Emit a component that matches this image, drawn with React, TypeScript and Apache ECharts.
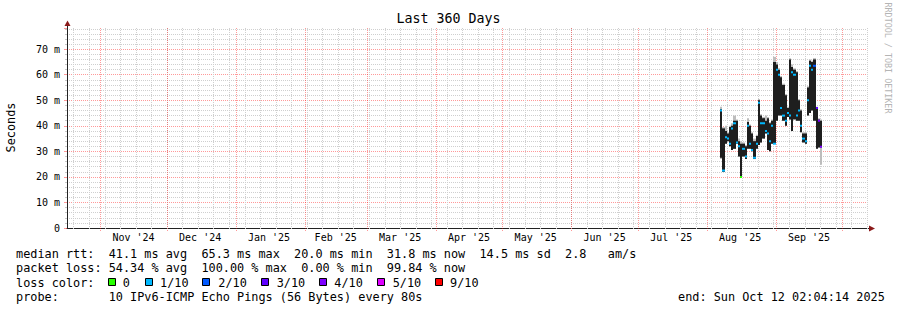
import React, { useEffect, useRef } from 'react';
import * as echarts from 'echarts';

const FONT = "'DejaVu Sans Mono', monospace";
const DAY = 86400000;

const END_TIME = '2025-10-12T02:04:14Z';
const SPAN_DAYS = 360;
const Y_MAX = 78.3; // ms

const monthStarts = ['2024-11-01', '2024-12-01', '2025-01-01', '2025-02-01', '2025-03-01', '2025-04-01',
  '2025-05-01', '2025-06-01', '2025-07-01', '2025-08-01', '2025-09-01', '2025-10-01'];
const monthLabelDates = ['2024-11-16', '2024-12-16', '2025-01-16', '2025-02-15', '2025-03-16', '2025-04-16',
  '2025-05-16', '2025-06-16', '2025-07-16', '2025-08-16', '2025-09-16'];
const monthLabels = ["Nov '24", "Dec '24", "Jan '25", "Feb '25", "Mar '25", "Apr '25",
  "May '25", "Jun '25", "Jul '25", "Aug '25", "Sep '25"];
const FIRST_WEEK_LINE = '2024-10-20';

// daily samples (ms)
const sampleDates = ['2025-08-07', '2025-08-08', '2025-08-09', '2025-08-10', '2025-08-11', '2025-08-12',
  '2025-08-13', '2025-08-14', '2025-08-15', '2025-08-16', '2025-08-17', '2025-08-18', '2025-08-19',
  '2025-08-20', '2025-08-21', '2025-08-22', '2025-08-23', '2025-08-24', '2025-08-25', '2025-08-26',
  '2025-08-27', '2025-08-28', '2025-08-29', '2025-08-30', '2025-08-31', '2025-09-01', '2025-09-02',
  '2025-09-03', '2025-09-04', '2025-09-05', '2025-09-06', '2025-09-07', '2025-09-08', '2025-09-09',
  '2025-09-10', '2025-09-11', '2025-09-12', '2025-09-13', '2025-09-14', '2025-09-15', '2025-09-16',
  '2025-09-17', '2025-09-18', '2025-09-19', '2025-09-20', '2025-09-21'];
const smokeHigh = [46.5, 39, 38, 37, 39.5, 40, 42, 42, 34, 33, 33, 32, 41.5, 40, 37, 34, 36, 50, 44, 43,
  42, 43, 41, 42, 65, 64, 62, 59, 56, 52, 47, 66, 63, 62, 61, 50, 46, 37, 37, 55, 65.5, 65, 66, 47, 42.5, 42];
const smokeLow = [27.5, 22, 33, 34, 32, 30.5, 31, 33, 28, 20, 28, 27, 31, 31, 30, 27, 31, 32.5, 33.5, 35,
  37, 30.5, 30, 33, 33, 42, 44, 44, 42, 40, 43.5, 42.5, 38, 42.5, 42, 42, 37.5, 33.5, 33, 44, 45, 46, 42, 31, 31.5, 31.5];
const outerHigh = [47.5, 39.5, 40, 37.5, 40, 41, 44, 42.5, 35, 34, 33.5, 32.5, 43, 40.5, 37.5, 35, 36.5, 50.5, 44.5, 43.5,
  44, 43.5, 41.5, 42.5, 67, 65, 62.5, 59.5, 56.5, 52.5, 47.5, 66.5, 64, 62.5, 61.5, 50.5, 46.5, 37.5, 37.5, 55.5, 66, 65.5, 66.5, 47.5, 43, 42.5];
const outerLow = [27, 22, 33, 34, 32, 30.5, 31, 33, 28, 20, 28, 27, 31, 31, 30, 27, 31, 32.5, 33.5, 35,
  37, 30.5, 30, 33, 33, 42, 44, 44, 42, 40, 43.5, 42.5, 38, 42.5, 42, 42, 37.5, 33.5, 33, 44, 45, 46, 42, 31, 31.5, 24.8];
const medianRtt = [46, 22.5, 35.5, 35, 33, 39, 41, 33.5, 32, 20, 31, 28, 40, 33, 30.5, 27.5, 33, 49, 41, 41,
  38, 37, 34, 40, 33, 62, 60, 47, 44, 42, 45, 44, 61, 60, 44, 46, 40, 35, 34, 50, 63.5, 62, 63.5, 47, 42, 31.8];
const medianLoss = [1, 1, 1, 1, 1, 1, 1, 1, 1, 0, 1, 1, 1, 1, 1, 1, 1, 1, 1, 1,
  1, 1, 1, 1, 1, 1, 1, 1, 1, 1, 1, 1, 1, 1, 1, 1, 1, 1, 1, 1, 1, 1, 2, 3, 4, 4];

const lossLabels = ['0', '1/10', '2/10', '3/10', '4/10', '5/10', '9/10'];
const lossColors = ['#26ff00', '#00b8ff', '#0059ff', '#5e00ff', '#7e00ff', '#dd00ff', '#ff0000'];

const statRtt = 'median rtt:  41.1 ms avg  65.3 ms max  20.0 ms min  31.8 ms now  14.5 ms sd  2.8   am/s';
const statLoss = 'packet loss: 54.34 % avg  100.00 % max  0.00 % min  99.84 % now';
const lossTitle = 'loss color:';
const probeText = 'probe:       10 IPv6-ICMP Echo Pings (56 Bytes) every 80s';
const endText = 'end: Sun Oct 12 02:04:14 2025';
const titleText = 'Last 360 Days';
const yName = 'Seconds';
const credit = 'RRDTOOL / TOBI OETIKER';

const ts = (d: string) => Date.parse(d.length <= 10 ? d + 'T00:00:00Z' : d);

export default function App() {
  const ref = useRef<HTMLDivElement>(null);
  useEffect(() => {
    if (!ref.current) return;
    const chart = echarts.init(ref.current, undefined, { renderer: 'svg' });
    const endTs = ts(END_TIME);
    const startTs = endTs - SPAN_DAYS * DAY;
    const labelMap = new Map<number, string>();
    monthLabelDates.forEach((d, i) => labelMap.set(ts(d), monthLabels[i]));
    const weekTs: number[] = [];
    for (let t = ts(FIRST_WEEK_LINE); t < endTs; t += 7 * DAY) weekTs.push(t);

    const vLine = (color: string, ext: number) => (params: any, api: any) => {
      const x = Math.round(api.coord([api.value(0), 0])[0]) + 0.5;
      const yb = api.coord([api.value(0), 0])[1];
      const yt = api.coord([api.value(0), Y_MAX])[1];
      return {
        type: 'line',
        shape: { x1: x, y1: yt, x2: x, y2: yb + ext },
        style: { stroke: color, lineWidth: 1, lineDash: [1, 1] },
      };
    };

    const data = sampleDates.map((d, i) => [ts(d), outerLow[i], outerHigh[i], smokeLow[i], smokeHigh[i], medianRtt[i], medianLoss[i]]);

    const graphic: any[] = [
      { type: 'text', x: 11, y: 127.5, rotation: Math.PI / 2, style: { text: yName, fontSize: 11.85, fontFamily: FONT, fill: '#000', align: 'center', verticalAlign: 'middle' } },
      { type: 'text', x: 888, y: 58, rotation: -Math.PI / 2, style: { text: credit, fontSize: 8.4, fontFamily: FONT, fill: '#b4b4b4', align: 'center', verticalAlign: 'middle' } },
      { type: 'text', x: 16, y: 254, style: { text: statRtt, fontSize: 11.85, fontFamily: FONT, fill: '#000', align: 'left', verticalAlign: 'middle' } },
      { type: 'text', x: 16, y: 268, style: { text: statLoss, fontSize: 11.85, fontFamily: FONT, fill: '#000', align: 'left', verticalAlign: 'middle' } },
      { type: 'text', x: 16, y: 282.5, style: { text: lossTitle, fontSize: 11.85, fontFamily: FONT, fill: '#000', align: 'left', verticalAlign: 'middle' } },
      { type: 'text', x: 16, y: 296.5, style: { text: probeText, fontSize: 11.85, fontFamily: FONT, fill: '#000', align: 'left', verticalAlign: 'middle' } },
      { type: 'text', x: 678, y: 296.5, style: { text: endText, fontSize: 11.85, fontFamily: FONT, fill: '#000', align: 'left', verticalAlign: 'middle' } },
      // axis extensions and arrows
      { type: 'line', shape: { x1: 67.5, y1: 28, x2: 67.5, y2: 24 }, style: { stroke: '#222', lineWidth: 1 } },
      { type: 'polygon', shape: { points: [[64.5, 26], [70.5, 26], [67.5, 20.5]] }, style: { fill: '#8b1a1a' } },
      { type: 'line', shape: { x1: 867, y1: 228.5, x2: 870, y2: 228.5 }, style: { stroke: '#222', lineWidth: 1 } },
      { type: 'polygon', shape: { points: [[869, 225.5], [869, 231.5], [875, 228.5]] }, style: { fill: '#8b1a1a' } },
    ];
    const sqX = [108.5, 145.5, 202.5, 261.5, 319.5, 377.5, 435.5];
    const txX = [122.7, 160, 218.3, 276.7, 334.3, 392.7, 450];
    lossLabels.forEach((lab, i) => {
      graphic.push({ type: 'rect', shape: { x: sqX[i], y: 278.5, width: 7, height: 7 }, style: { fill: lossColors[i], stroke: '#000', lineWidth: 1 } });
      graphic.push({ type: 'text', x: txX[i], y: 282.5, style: { text: lab, fontSize: 11.85, fontFamily: FONT, fill: '#000', align: 'left', verticalAlign: 'middle' } });
    });

    chart.setOption({
      animation: false,
      backgroundColor: '#fff',
      title: {
        text: titleText, left: 'center', top: 12, padding: 0,
        textStyle: { fontFamily: FONT, fontSize: 13.3, fontWeight: 'normal', color: '#000' },
      },
      grid: { left: 67, top: 28, width: 800, height: 200, containLabel: false },
      xAxis: {
        type: 'value', min: startTs, max: endTs,
        axisLine: { show: true, lineStyle: { color: '#222', width: 1 } },
        axisTick: { show: false },
        splitLine: { show: false },
        axisLabel: {
          customValues: monthLabelDates.map(ts),
          formatter: (v: number) => labelMap.get(v) ?? '',
          fontFamily: FONT, fontSize: 10, color: '#000', margin: 4,
          showMinLabel: true, showMaxLabel: true,
        },
      },
      yAxis: {
        type: 'value', min: 0, max: Y_MAX, interval: 10,
        axisLine: { show: true, lineStyle: { color: '#222', width: 1 } },
        axisTick: { show: true, length: 3, lineStyle: { color: 'rgba(255,0,0,0.4)' } },
        minorTick: { show: true, splitNumber: 5, length: 2, lineStyle: { color: '#c8c8c8' } },
        splitLine: { show: true, showMaxLine: false, showMinLine: false, lineStyle: { color: 'rgba(255,0,0,0.4)', type: [1, 1], width: 1 } },
        minorSplitLine: { show: true, lineStyle: { color: '#cfcfcf', type: [1, 1], width: 1 } },
        axisLabel: {
          formatter: (v: number) => (v === 0 ? '0' : `${v} m`),
          fontFamily: FONT, fontSize: 10, color: '#000', margin: 7, showMaxLabel: false,
        },
      },
      graphic,
      series: [
        {
          type: 'custom', name: 'weeks', z: 1, clip: false, silent: true,
          data: weekTs.map((t) => [t, 0]),
          renderItem: vLine('#cfcfcf', 2),
        },
        {
          type: 'custom', name: 'months', z: 1, clip: false, silent: true,
          data: monthStarts.map((d) => [ts(d), 0]),
          renderItem: vLine('rgba(255,0,0,0.4)', 3),
        },
        {
          type: 'custom', name: 'rtt', z: 3, silent: true,
          data,
          renderItem: (params: any, api: any) => {
            const t = api.value(0);
            const xa = Math.round(api.coord([t, 0])[0]);
            const xb = Math.round(api.coord([t + DAY, 0])[0]);
            const w = Math.max(1, xb - xa);
            const y = (v: number) => api.coord([t, v])[1];
            const oL = y(api.value(1)), oH = y(api.value(2));
            const sL = y(api.value(3)), sH = y(api.value(4));
            const m = y(api.value(5));
            const loss = api.value(6);
            return {
              type: 'group',
              children: [
                { type: 'rect', shape: { x: xa, y: oH, width: w, height: oL - oH }, style: { fill: '#bdbdbd' } },
                { type: 'rect', shape: { x: xa, y: sH, width: w, height: sL - sH }, style: { fill: '#1e1e1e' } },
                { type: 'rect', shape: { x: xa, y: m - 1, width: w, height: 2 }, style: { fill: lossColors[loss] } },
              ],
            };
          },
        },
      ],
    });
    return () => chart.dispose();
  }, []);
  return <div ref={ref} style={{ position: 'fixed', left: 0, top: 0, width: 897, height: 310, background: '#fff' }} />;
}
